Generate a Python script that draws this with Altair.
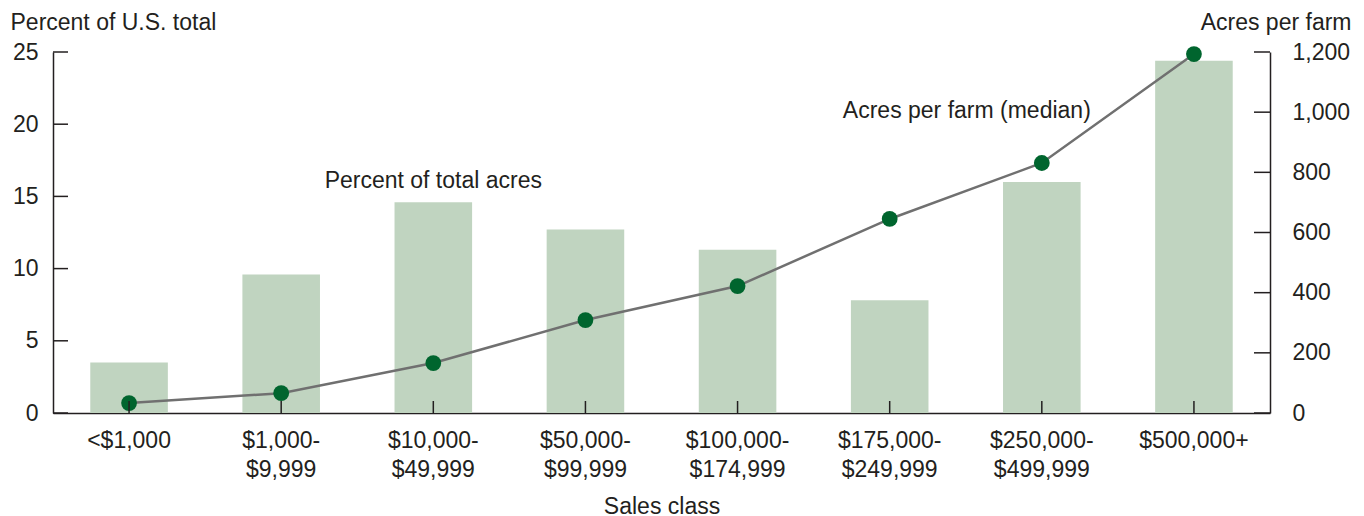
import altair as alt
import pandas as pd

# ---- data ----
categories = ["<$1,000", "$1,000-\n$9,999", "$10,000-\n$49,999", "$50,000-\n$99,999",
              "$100,000-\n$174,999", "$175,000-\n$249,999", "$250,000-\n$499,999", "$500,000+"]
pct_total_acres = [3.5, 9.6, 14.6, 12.7, 11.3, 7.8, 16.0, 24.4]
acres_per_farm = [33, 66, 166, 309, 422, 645, 831, 1193]

left_ticks = [0, 5, 10, 15, 20, 25]
right_ticks = [0, 200, 400, 600, 800, 1000, 1200]

ann_left = {"cat": categories[2], "val": 15.6, "text": "Percent of total acres"}
ann_right = {"cat": categories[6], "val": 981, "text": "Acres per farm (median)"}

W, H = 1217, 361
FONT = "Liberation Sans"
TXT = "#231f20"
FS = 23

df = pd.DataFrame({"cat": categories, "pct": pct_total_acres, "acres": acres_per_farm})
lt = pd.DataFrame({"v": left_ticks})
rt = pd.DataFrame({"v": right_ticks})
a1 = pd.DataFrame([ann_left])
a2 = pd.DataFrame([ann_right])

xscale = alt.Scale(paddingInner=0.49, paddingOuter=0.245)
left_dom = alt.Scale(domain=[0, 25], nice=False)
right_dom = alt.Scale(domain=[0, 1200], nice=False)

x_axis = alt.Axis(
    title="Sales class", labelAngle=0, ticks=False, domain=True,
    labelExpr="split(datum.label, '\\n')", labelLineHeight=29,
    labelPadding=16, titleY=100, titleBaseline="alphabetic",
    titleFontWeight="normal",
)

bars = alt.Chart(df).mark_bar(color="#c0d4c0").encode(
    x=alt.X("cat:N", sort=categories, scale=xscale, axis=x_axis),
    y=alt.Y("pct:Q", scale=left_dom, axis=alt.Axis(
        title="Percent of U.S. total", values=left_ticks, ticks=False, grid=False,
        labelPadding=15, titleAngle=0, titleAlign="left", titleBaseline="alphabetic",
        titleX=-43, titleY=-23, titleFontWeight="normal")),
)

line = alt.Chart(df).mark_line(color="#707070", strokeWidth=2.5).encode(
    x=alt.X("cat:N", sort=categories),
    y=alt.Y("acres:Q", scale=right_dom, axis=alt.Axis(
        orient="right", title="Acres per farm", values=right_ticks, format=",d",
        ticks=False, grid=False, labelPadding=22, titleAngle=0, titleAlign="right",
        titleBaseline="alphabetic", titleX=81, titleY=-23, titleFontWeight="normal")),
)
points = alt.Chart(df).mark_circle(color="#00652e", size=250, opacity=1).encode(
    x=alt.X("cat:N", sort=categories),
    y=alt.Y("acres:Q", scale=right_dom),
)
acres_layer = alt.layer(line, points)

lticks = alt.Chart(lt).mark_rule(color=TXT, strokeWidth=1.5).encode(
    y=alt.Y("v:Q", scale=left_dom, axis=None),
    x=alt.value(0), x2=alt.value(15),
)
rticks = alt.Chart(rt).mark_rule(color=TXT, strokeWidth=1.5).encode(
    y=alt.Y("v:Q", scale=right_dom, axis=None),
    x=alt.value(W - 16), x2=alt.value(W),
)
xticks = alt.Chart(df).mark_rule(color=TXT, strokeWidth=1.5).encode(
    x=alt.X("cat:N", sort=categories),
    y=alt.value(H), y2=alt.value(H - 12),
)

t1 = alt.Chart(a1).mark_text(font=FONT, fontSize=FS, color=TXT, align="center",
                             baseline="alphabetic").encode(
    x=alt.X("cat:N", sort=categories),
    y=alt.Y("val:Q", scale=left_dom, axis=None),
    text="text:N",
)
t2 = alt.Chart(a2).mark_text(font=FONT, fontSize=FS, color=TXT, align="right",
                             baseline="alphabetic", dx=49).encode(
    x=alt.X("cat:N", sort=categories),
    y=alt.Y("val:Q", scale=right_dom, axis=None),
    text="text:N",
)

chart = alt.layer(bars, acres_layer, lticks, rticks, xticks, t1, t2).resolve_scale(
    y="independent"
).properties(
    width=W, height=H,
    autosize=alt.AutoSizeParams(type="none"),
    padding={"left": 45, "top": 44, "right": 86, "bottom": 106},
).configure_view(stroke=None).configure_axis(
    labelFont=FONT, labelFontSize=FS, labelColor=TXT,
    titleFont=FONT, titleFontSize=FS, titleColor=TXT,
    domainColor=TXT, domainWidth=1.5,
)

chart.save("out.html", embed_options={"renderer": "svg", "actions": False})
